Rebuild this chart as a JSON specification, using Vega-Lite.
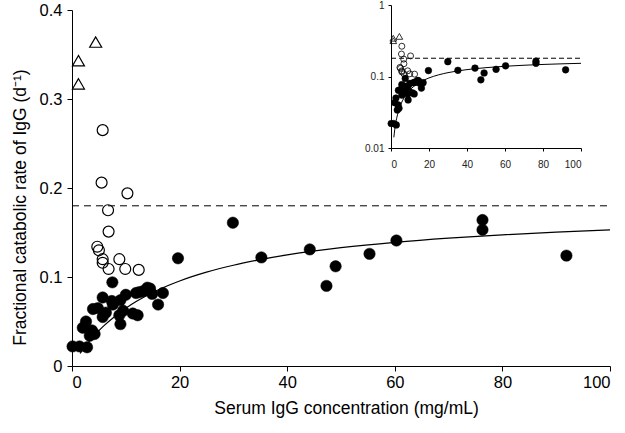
{
  "$schema": "https://vega.github.io/schema/vega-lite/v6.json",
  "autosize": "none",
  "width": 538,
  "height": 356,
  "padding": {"left": 72, "top": 10, "right": 15, "bottom": 67},
  "background": "white",
  "config": {"view": {"stroke": null}, "font": "Liberation Sans"},
  "datasets": {
    "pts": [
      {"x": 4.4, "y": 0.364, "group": "tri"},
      {"x": 1.2, "y": 0.343, "group": "tri"},
      {"x": 1.2, "y": 0.317, "group": "tri"},
      {"x": 5.7, "y": 0.265, "group": "open"},
      {"x": 5.5, "y": 0.206, "group": "open"},
      {"x": 10.3, "y": 0.194, "group": "open"},
      {"x": 6.7, "y": 0.175, "group": "open"},
      {"x": 6.8, "y": 0.151, "group": "open"},
      {"x": 4.7, "y": 0.134, "group": "open"},
      {"x": 5.0, "y": 0.130, "group": "open"},
      {"x": 5.7, "y": 0.120, "group": "open"},
      {"x": 5.7, "y": 0.116, "group": "open"},
      {"x": 8.8, "y": 0.120, "group": "open"},
      {"x": 6.8, "y": 0.109, "group": "open"},
      {"x": 9.9, "y": 0.109, "group": "open"},
      {"x": 12.4, "y": 0.108, "group": "open"},
      {"x": 0.1, "y": 0.022, "group": "filled"},
      {"x": 1.4, "y": 0.022, "group": "filled"},
      {"x": 2.8, "y": 0.021, "group": "filled"},
      {"x": 2.0, "y": 0.043, "group": "filled"},
      {"x": 2.6, "y": 0.050, "group": "filled"},
      {"x": 3.3, "y": 0.034, "group": "filled"},
      {"x": 3.7, "y": 0.040, "group": "filled"},
      {"x": 4.2, "y": 0.036, "group": "filled"},
      {"x": 3.9, "y": 0.064, "group": "filled"},
      {"x": 4.8, "y": 0.065, "group": "filled"},
      {"x": 5.7, "y": 0.077, "group": "filled"},
      {"x": 5.7, "y": 0.055, "group": "filled"},
      {"x": 6.3, "y": 0.060, "group": "filled"},
      {"x": 7.5, "y": 0.094, "group": "filled"},
      {"x": 7.6, "y": 0.069, "group": "filled"},
      {"x": 7.4, "y": 0.073, "group": "filled"},
      {"x": 8.8, "y": 0.057, "group": "filled"},
      {"x": 9.0, "y": 0.074, "group": "filled"},
      {"x": 9.0, "y": 0.047, "group": "filled"},
      {"x": 9.5, "y": 0.062, "group": "filled"},
      {"x": 10.0, "y": 0.080, "group": "filled"},
      {"x": 11.3, "y": 0.059, "group": "filled"},
      {"x": 11.9, "y": 0.082, "group": "filled"},
      {"x": 12.2, "y": 0.057, "group": "filled"},
      {"x": 12.5, "y": 0.083, "group": "filled"},
      {"x": 13.2, "y": 0.084, "group": "filled"},
      {"x": 14.0, "y": 0.088, "group": "filled"},
      {"x": 14.5, "y": 0.087, "group": "filled"},
      {"x": 14.9, "y": 0.081, "group": "filled"},
      {"x": 16.0, "y": 0.069, "group": "filled"},
      {"x": 16.9, "y": 0.082, "group": "filled"},
      {"x": 19.7, "y": 0.121, "group": "filled"},
      {"x": 29.9, "y": 0.161, "group": "filled"},
      {"x": 35.2, "y": 0.122, "group": "filled"},
      {"x": 44.2, "y": 0.131, "group": "filled"},
      {"x": 47.3, "y": 0.090, "group": "filled"},
      {"x": 49.0, "y": 0.112, "group": "filled"},
      {"x": 55.3, "y": 0.126, "group": "filled"},
      {"x": 60.3, "y": 0.141, "group": "filled"},
      {"x": 76.3, "y": 0.164, "group": "filled"},
      {"x": 76.3, "y": 0.153, "group": "filled"},
      {"x": 91.9, "y": 0.124, "group": "filled"}
    ],
    "curve": [
      {"x": 1.5, "y": 0.0141},
      {"x": 2, "y": 0.0183},
      {"x": 3, "y": 0.0261},
      {"x": 4, "y": 0.0332},
      {"x": 5, "y": 0.0397},
      {"x": 6, "y": 0.0456},
      {"x": 8, "y": 0.0560},
      {"x": 10, "y": 0.0650},
      {"x": 12, "y": 0.0727},
      {"x": 15, "y": 0.0826},
      {"x": 20, "y": 0.0955},
      {"x": 25, "y": 0.1054},
      {"x": 30, "y": 0.1132},
      {"x": 35, "y": 0.1195},
      {"x": 40, "y": 0.1248},
      {"x": 50, "y": 0.1329},
      {"x": 60, "y": 0.1390},
      {"x": 70, "y": 0.1437},
      {"x": 80, "y": 0.1474},
      {"x": 90, "y": 0.1504},
      {"x": 100, "y": 0.1529}
    ],
    "ref": [
      {"x": 0, "y": 0.18},
      {"x": 100, "y": 0.18}
    ]
  },
  "layer": [
    {
      "encoding": {
        "x": {
          "field": "x", "type": "quantitative",
          "scale": {"domain": [0, 100], "nice": false, "zero": false},
          "axis": {
            "title": "Serum IgG concentration (mg/mL)",
            "values": [0, 20, 40, 60, 80, 100],
            "grid": false, "domainColor": "black", "tickColor": "black",
            "labelColor": "black", "titleColor": "black",
            "labelFontSize": 16.5, "titleFontSize": 17.5, "titleFontWeight": "normal",
            "tickSize": 5, "labelPadding": 3, "titlePadding": 9, "titleX": 274,
            "labelFont": "Liberation Sans", "titleFont": "Liberation Sans"
          }
        },
        "y": {
          "field": "y", "type": "quantitative",
          "scale": {"domain": [0, 0.4], "nice": false},
          "axis": {
            "title": "Fractional catabolic rate of IgG (d⁻¹)",
            "values": [0, 0.1, 0.2, 0.3, 0.4],
            "format": "~g",
            "grid": false, "domainColor": "black", "tickColor": "black",
            "labelColor": "black", "titleColor": "black",
            "labelFontSize": 16.5, "titleFontSize": 17.5, "titleFontWeight": "normal",
            "tickSize": 5, "labelPadding": 5, "titlePadding": 10, "titleY": 197,
            "labelFont": "Liberation Sans", "titleFont": "Liberation Sans"
          }
        }
      },
      "layer": [
        {
          "data": {"name": "ref"},
          "mark": {"type": "line", "color": "black", "strokeWidth": 1, "strokeDash": [7, 5]}
        },
        {
          "data": {"name": "pts"},
          "transform": [{"filter": "datum.group == 'filled'"}],
          "mark": {"type": "point", "shape": "circle", "filled": true, "fill": "black", "stroke": "black", "strokeWidth": 0.5, "size": 130, "opacity": 1}
        },
        {
          "data": {"name": "pts"},
          "transform": [{"filter": "datum.group == 'open'"}],
          "mark": {"type": "point", "shape": "circle", "filled": false, "stroke": "black", "strokeWidth": 1.2, "size": 120, "opacity": 1}
        },
        {
          "data": {"name": "pts"},
          "transform": [{"filter": "datum.group == 'tri'"}],
          "mark": {"type": "point", "shape": "triangle-up", "filled": false, "stroke": "black", "strokeWidth": 1.2, "size": 144, "opacity": 1}
        },
        {
          "data": {"name": "curve"},
          "mark": {"type": "line", "color": "black", "strokeWidth": 1.2, "interpolate": "monotone"}
        }
      ]
    },
    {
      "encoding": {
        "x": {
          "field": "x", "type": "quantitative",
          "scale": {"domain": [0, 100], "nice": false, "zero": false, "range": [319, 509]},
          "axis": {
            "orient": "bottom", "offset": -218, "title": null,
            "values": [0, 20, 40, 60, 80, 100],
            "grid": false, "domainColor": "black", "tickColor": "black",
            "labelColor": "#222", "labelFontSize": 10, "tickSize": 3, "labelPadding": 8,
            "labelFont": "Liberation Sans"
          }
        },
        "y": {
          "field": "y", "type": "quantitative",
          "scale": {"type": "log", "domain": [0.01, 1], "nice": false, "range": [138, -5]},
          "axis": {
            "orient": "left", "offset": -319, "title": null,
            "values": [0.01, 0.1, 1], "format": "~g",
            "grid": false, "domainColor": "black", "tickColor": "black",
            "labelColor": "#222", "labelFontSize": 10, "tickSize": 3, "labelPadding": 4,
            "labelFont": "Liberation Sans"
          }
        }
      },
      "layer": [
        {
          "data": {"name": "ref"},
          "mark": {"type": "line", "color": "black", "strokeWidth": 1, "strokeDash": [5, 3]}
        },
        {
          "data": {"name": "pts"},
          "transform": [{"filter": "datum.group == 'filled'"}],
          "mark": {"type": "point", "shape": "circle", "filled": true, "fill": "black", "stroke": "black", "strokeWidth": 0.5, "size": 45, "opacity": 1}
        },
        {
          "data": {"name": "pts"},
          "transform": [{"filter": "datum.group == 'open'"}],
          "mark": {"type": "point", "shape": "circle", "filled": false, "stroke": "black", "strokeWidth": 0.8, "size": 36, "opacity": 1}
        },
        {
          "data": {"name": "pts"},
          "transform": [{"filter": "datum.group == 'tri'"}],
          "mark": {"type": "point", "shape": "triangle-up", "filled": false, "stroke": "black", "strokeWidth": 0.8, "size": 45, "opacity": 1}
        },
        {
          "data": {"name": "curve"},
          "mark": {"type": "line", "color": "black", "strokeWidth": 1, "interpolate": "monotone"}
        }
      ]
    }
  ],
  "resolve": {
    "scale": {"x": "independent", "y": "independent"},
    "axis": {"x": "independent", "y": "independent"}
  }
}
